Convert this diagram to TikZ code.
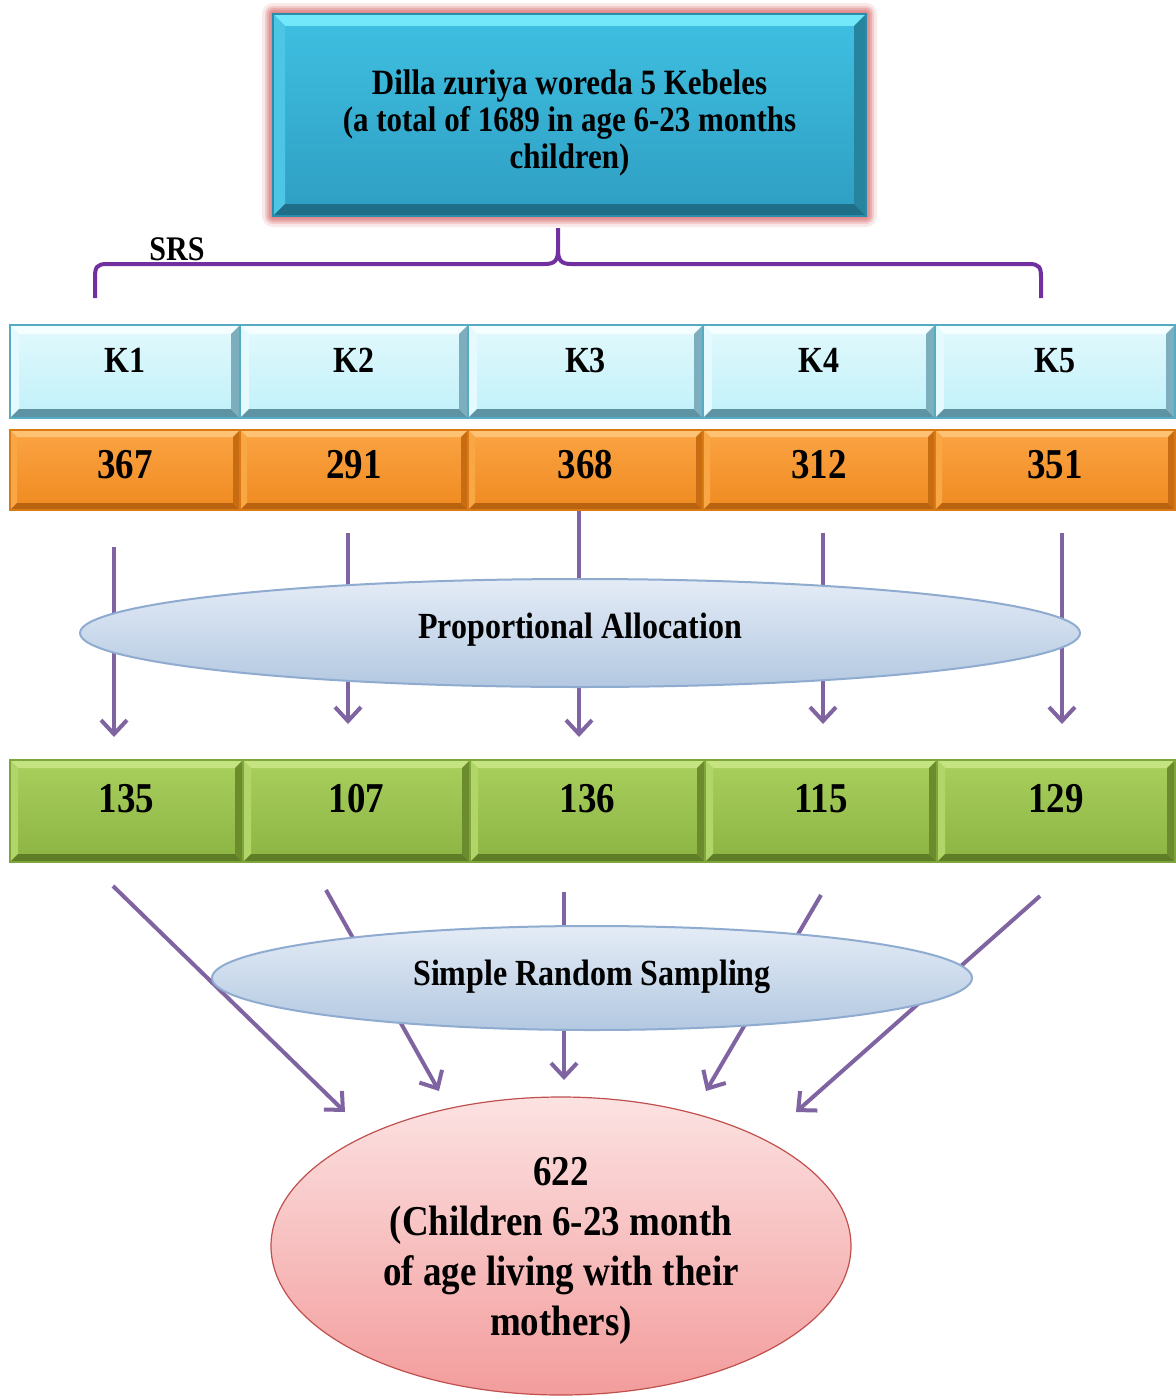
\documentclass[tikz,border=0pt]{standalone}
\usepackage{fontspec}
\setmainfont{Liberation Serif}[FakeStretch=0.87]
\usetikzlibrary{shapes.geometric,arrows.meta,calc}
\definecolor{tbTop}{HTML}{3FC0E2}\definecolor{tbBot}{HTML}{2E9EC2}
\definecolor{tbT}{HTML}{74E8FB}\definecolor{tbL}{HTML}{4CC6E4}\definecolor{tbB}{HTML}{1D6E86}\definecolor{tbR}{HTML}{26849F}
\definecolor{tbBorder}{HTML}{2A8CAA}\definecolor{glow}{HTML}{E08A8A}
\definecolor{kTop}{HTML}{E2F9FD}\definecolor{kBot}{HTML}{C0F1F9}
\definecolor{kT}{HTML}{F4FEFF}\definecolor{kL}{HTML}{E4FAFE}\definecolor{kB}{HTML}{5E93A3}\definecolor{kR}{HTML}{7DAEBE}\definecolor{kBorder}{HTML}{55AAC4}
\definecolor{oTop}{HTML}{FBA444}\definecolor{oBot}{HTML}{EF8A20}
\definecolor{oT}{HTML}{FDC273}\definecolor{oL}{HTML}{F9A645}\definecolor{oB}{HTML}{B9620F}\definecolor{oR}{HTML}{C86C12}\definecolor{oBorder}{HTML}{DA7A16}
\definecolor{gTop}{HTML}{A9D05D}\definecolor{gBot}{HTML}{8CB443}
\definecolor{gT}{HTML}{C6E382}\definecolor{gL}{HTML}{B2D56A}\definecolor{gB}{HTML}{5E7D26}\definecolor{gR}{HTML}{6B8B2D}\definecolor{gBorder}{HTML}{7FA63A}
\definecolor{elTop}{HTML}{E4ECF6}\definecolor{elBot}{HTML}{B3C8E1}\definecolor{elBorder}{HTML}{8FABD0}
\definecolor{pkTop}{HTML}{FCE2E2}\definecolor{pkBot}{HTML}{F39C9C}\definecolor{pkBorder}{HTML}{C0504D}
\definecolor{braceCol}{HTML}{7030A0}\definecolor{arrCol}{HTML}{8064A2}
\tikzset{
  boxbase/.style={inner sep=0pt, outer sep=0pt, font=\bfseries},
  kbox/.style={boxbase, top color=kTop, bottom color=kBot, font=\bfseries\fontsize{36.8}{40}\selectfont, text height=25pt, text depth=24pt},
  obox/.style={boxbase, top color=oTop, bottom color=oBot, font=\bfseries\fontsize{42.5}{46}\selectfont, text height=29pt, text depth=13pt},
  gbox/.style={boxbase, top color=gTop, bottom color=gBot, font=\bfseries\fontsize{42.5}{46}\selectfont, text height=29pt, text depth=27pt},
  topbox/.style={boxbase, top color=tbTop, bottom color=tbBot, align=center, font=\bfseries\fontsize{35.6}{37}\selectfont},
  oval/.style={ellipse, inner sep=0pt, draw=elBorder, line width=2pt, top color=elTop, bottom color=elBot, font=\bfseries\fontsize{36.8}{40}\selectfont},
  result/.style={ellipse, inner sep=0pt, draw=pkBorder, line width=1.2pt, top color=pkTop, bottom color=pkBot, align=center, font=\bfseries\fontsize{42.5}{50}\selectfont},
  brace/.style={draw=braceCol, line width=4pt},
  arr/.style={draw=arrCol, line width=4pt, -{Straight Barb[length=14pt,width=26pt]}},
  lbl/.style={font=\bfseries\fontsize{34.5}{38}\selectfont, inner sep=0pt}
}
\newcommand\bbox[7]{%
  \pgfmathsetmacro\bbcx{(#2+#3)/2}\pgfmathsetmacro\bbcy{-(#4+#5)/2}%
  \pgfmathsetmacro\bbw{#3-#2}\pgfmathsetmacro\bbh{#5-#4}%
  \node[#6, minimum width=\bbw pt, minimum height=\bbh pt] (#1) at (\bbcx,\bbcy) {#7};%
}
\newcommand\bevel[7]{%
  \fill[#3] (#1.north west) -- (#1.north east) -- ($(#1.north east)+(-#2,-#2)$) -- ($(#1.north west)+(#2,-#2)$) -- cycle;
  \fill[#4] (#1.north west) -- ($(#1.north west)+(#2,-#2)$) -- ($(#1.south west)+(#2,#2)$) -- (#1.south west) -- cycle;
  \fill[#5] (#1.south west) -- (#1.south east) -- ($(#1.south east)+(-#2,#2)$) -- ($(#1.south west)+(#2,#2)$) -- cycle;
  \fill[#6] (#1.north east) -- (#1.south east) -- ($(#1.south east)+(-#2,#2)$) -- ($(#1.north east)+(-#2,-#2)$) -- cycle;
  \draw[#7, line width=2pt] (#1.north west) rectangle (#1.south east);
}
\begin{document}
\begin{tikzpicture}[x=1pt,y=1pt]
\useasboundingbox[fill=white] (0,0) rectangle (1175,-1397);
% top box glow
\foreach \g/\op in {11/0.18,8/0.3,6/0.45,4/0.65,2/0.85}{
  \fill[glow, opacity=\op, rounded corners=\g] ({273-\g},{-14+\g}) rectangle ({866+\g},{-216-\g});
}
\bbox{top}{273}{866}{14}{216}{topbox}{\rule{0pt}{40pt}Dilla zuriya woreda 5 Kebeles\\(a total of 1689 in age 6-23 months\\children)}
\bevel{top}{12}{tbT}{tbL}{tbB}{tbR}{tbBorder}
\node[lbl] (srs) at (177,-249) {SRS};
% brace
\draw[brace] (95,-298) -- (95,-277) .. controls (95,-267) and (97,-264) .. (107,-264) -- (545,-264) .. controls (555,-264) and (558,-260) .. (558,-250) -- (558,-228);
\draw[brace] (558,-250) .. controls (558,-260) and (561,-264) .. (571,-264) -- (1029,-264) .. controls (1039,-264) and (1041,-267) .. (1041,-277) -- (1041,-298);
% K row
\foreach \n/\xa/\xb/\t in {k1/10/240/K1, k2/240/468/K2, k3/468/703/K3, k4/703/935/K4, k5/935/1175/K5}{
  \bbox{\n}{\xa}{\xb}{325}{418}{kbox}{\t}
  \bevel{\n}{9}{kT}{kL}{kB}{kR}{kBorder}
}
% orange row
\foreach \n/\xa/\xb/\t in {o1/10/240/367, o2/240/468/291, o3/468/703/368, o4/703/935/312, o5/935/1175/351}{
  \bbox{\n}{\xa}{\xb}{430}{510}{obox}{\t}
  \bevel{\n}{7}{oT}{oL}{oB}{oR}{oBorder}
}
% arrows to allocation
\coordinate (a1) at (114,-547); \coordinate (e1) at (114,-737);
\coordinate (a2) at (348,-533); \coordinate (e2) at (348,-724);
\coordinate (a3) at (579,-511); \coordinate (e3) at (579,-737);
\coordinate (a4) at (823,-533); \coordinate (e4) at (823,-724);
\coordinate (a5) at (1062,-533); \coordinate (e5) at (1062,-724);
\foreach \i in {1,...,5}{\draw[arr] (a\i) -- (e\i);}
\node[oval, minimum width=1000pt, minimum height=108pt, text height=25pt, text depth=14pt] (pa) at (580,-633) {Proportional Allocation};
% green row
\foreach \n/\xa/\xb/\t in {g1/10/243/135, g2/243/470/107, g3/470/705/136, g4/705/937/115, g5/937/1175/129}{
  \bbox{\n}{\xa}{\xb}{760}{862}{gbox}{\t}
  \bevel{\n}{8}{gT}{gL}{gB}{gR}{gBorder}
}
% arrows to result
\coordinate (b1) at (113,-886); \coordinate (f1) at (345,-1112);
\coordinate (b2) at (326,-890); \coordinate (f2) at (439,-1091);
\coordinate (b3) at (564,-892); \coordinate (f3) at (564,-1080);
\coordinate (b4) at (821,-895); \coordinate (f4) at (706,-1091);
\coordinate (b5) at (1040,-896); \coordinate (f5) at (796,-1112);
\foreach \i in {1,...,5}{\draw[arr] (b\i) -- (f\i);}
\node[oval, minimum width=760pt, minimum height=104pt, text height=25pt, text depth=11pt] (sr) at (592,-978) {Simple Random Sampling};
\node[result, minimum width=580pt, minimum height=298pt] (res) at (561,-1246) {\rule{0pt}{39pt}622\\(Children 6-23 month\\of age living with their\\mothers)};
\end{tikzpicture}
\end{document}
